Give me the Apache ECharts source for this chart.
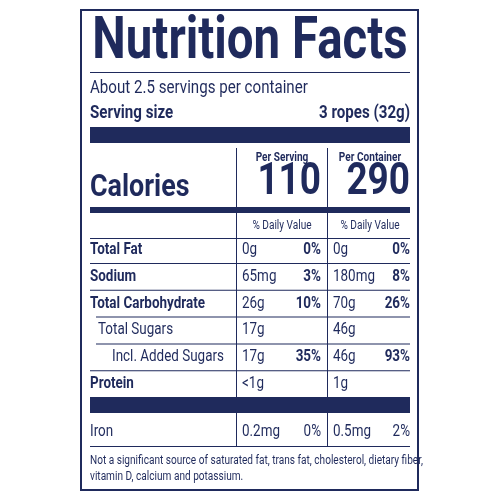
<!DOCTYPE html><html><head><meta charset="utf-8"><script src="https://cdn.jsdelivr.net/npm/echarts@6/dist/echarts.min.js"></script></head><body style="margin:0"><div id="c" style="width:500px;height:500px"></div><script>
const title="Nutrition Facts";
const servingsText="About 2.5 servings per container";
const servingSize=["Serving size","3 ropes (32g)"];
const colHeads=["Per Serving","Per Container"];
const calories=["110","290"];
const nutrients=["Total Fat","Sodium","Total Carbohydrate","Total Sugars","Incl. Added Sugars","Protein"];
const indent=[0,0,0,1,2,0];
const servAmt=["0g","65mg","26g","17g","17g","<1g"];
const servDV=["0%","3%","10%","","35%",""];
const contAmt=["0g","180mg","70g","46g","46g","1g"];
const contDV=["0%","8%","26%","","93%",""];
const iron=["Iron","0.2mg","0%","0.5mg","2%"];
const foot=["Not a significant source of saturated fat, trans fat, cholesterol, dietary fiber,","vitamin D, calcium and potassium."];
const C='#1f2a5c',F='"Roboto","Liberation Sans",sans-serif';
const g=[];
function T(x,y,t,s,b,a,sx){g.push({type:'text',x,y,scaleX:sx||0.84,style:{x:0,y:0,text:t,fill:C,font:(b?'bold ':'')+s+'px '+F,align:a||'left',verticalAlign:'middle'}});}
function R(x,y,w,h){g.push({type:'rect',shape:{x,y,width:w,height:h},style:{fill:C}});}
g.push({type:'rect',shape:{x:81,y:10,width:337,height:480},style:{fill:'#fff',stroke:C,lineWidth:2}});
T(250,43,title,60,1,'center',0.79);
R(90,72,320,1);
T(90,88,servingsText,18,0);
T(90,113,servingSize[0],18,1);T(410,113,servingSize[1],18,1,'right');
R(90,127,320,16);
R(236,148,1,299);R(327,148,1,299);
T(282,158,colHeads[0],12,1,'center');T(370,158,colHeads[1],12,1,'center');
T(90,188,'Calories',32,1);
T(321,183,calories[0],44,1,'right');T(410,183,calories[1],44,1,'right');
R(90,207,320,6);
T(282,226,'% Daily Value',12,0,'center');T(370,226,'% Daily Value',12,0,'center');
R(90,238,320,1);
const ix=[90,98,112];
nutrients.forEach((n,i)=>{const y=250+i*26.8;
T(ix[indent[i]],y,n,16,indent[i]===0);
T(242,y,servAmt[i],16,0);T(321,y,servDV[i],16,1,'right');
T(333,y,contAmt[i],16,0);T(410,y,contDV[i],16,1,'right');
if(i<5){const x=indent[i+1]?96:90;R(x,y+13,410-x,1);}
});
R(90,397,320,16);
T(90,432,iron[0],16,0);T(242,432,iron[1],16,0);T(321,432,iron[2],16,0,'right');T(333,432,iron[3],16,0);T(410,432,iron[4],16,0,'right');
R(90,446,320,1);
T(90,461,foot[0],12,0);T(90,477,foot[1],12,0);
const ch=echarts.init(document.getElementById('c'));
ch.setOption({graphic:{elements:g}});
</script></body></html>
